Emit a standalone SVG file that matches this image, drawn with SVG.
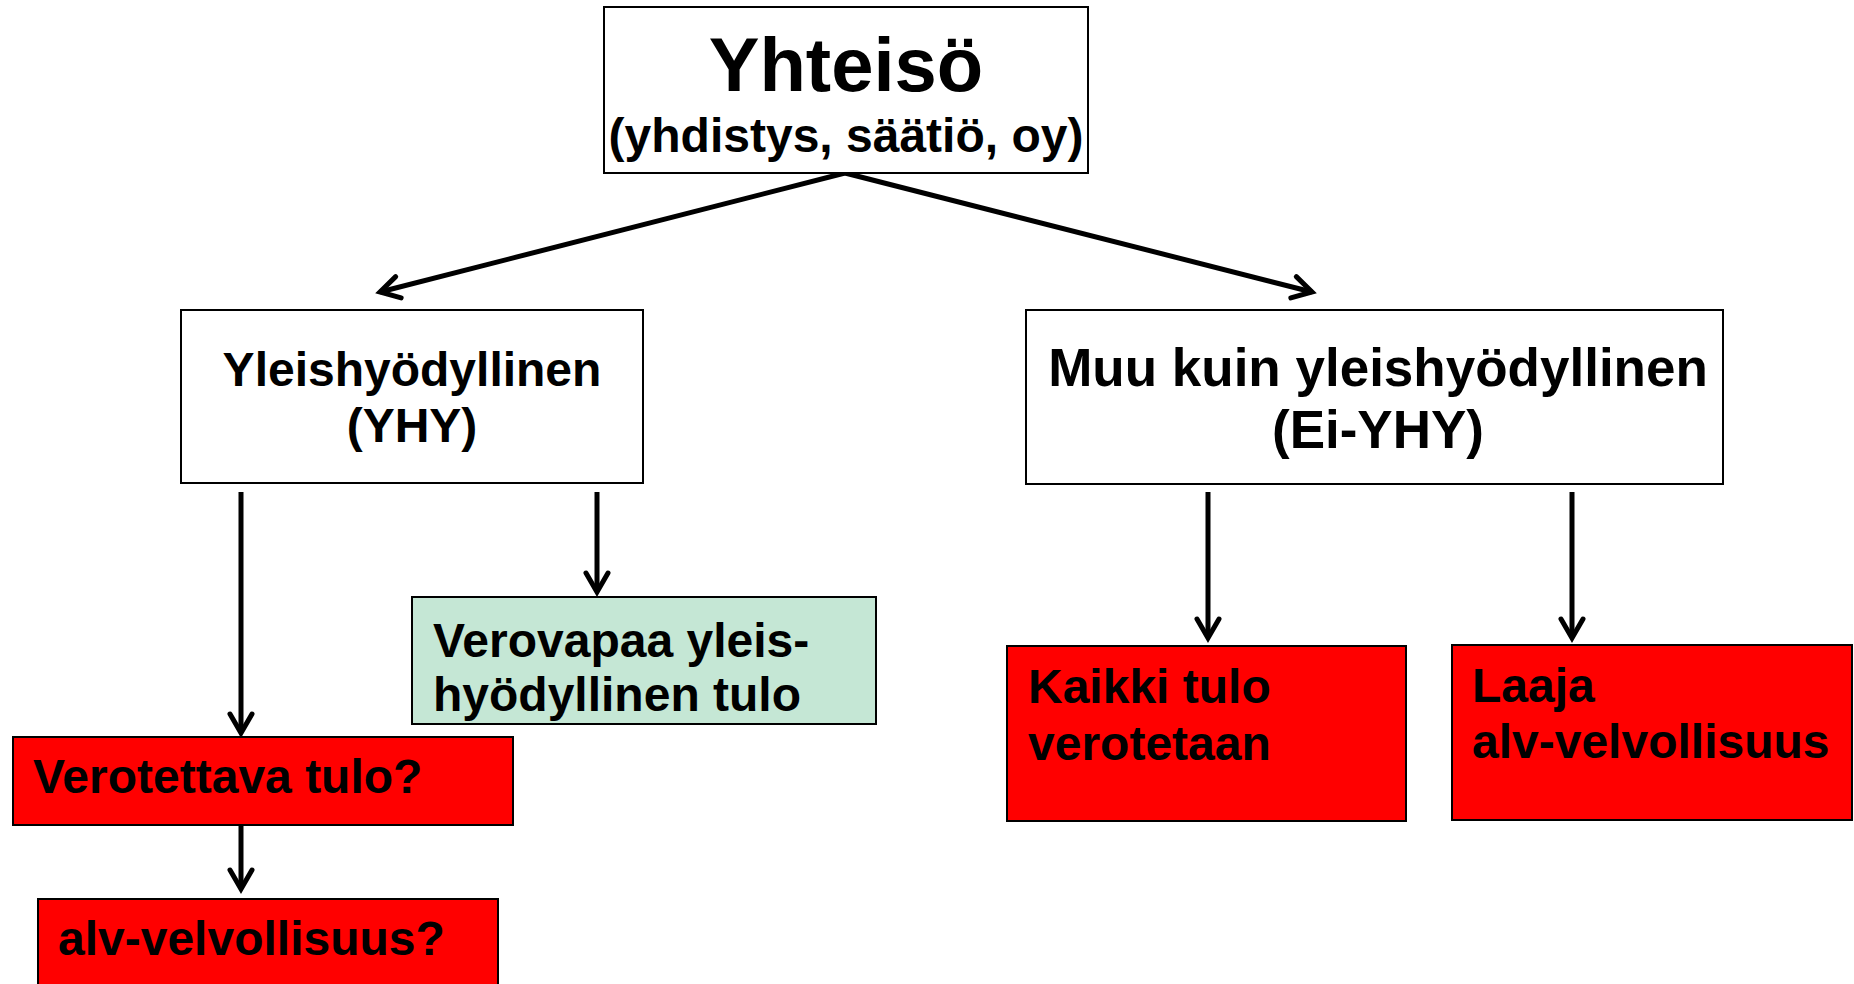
<svg xmlns="http://www.w3.org/2000/svg" width="1854" height="984" viewBox="0 0 1854 984">
<style>
  .box { stroke: #000; stroke-width: 2; }
  .white { fill: #ffffff; }
  .red { fill: #ff0000; }
  .green { fill: #c5e7d5; }
  text { font-family: "Liberation Sans", Arial, sans-serif; font-weight: bold; fill: #000; }
  .c { text-anchor: middle; }
  .f48 { font-size: 48px; }
  .conn { stroke: #000; stroke-width: 5; fill: none; marker-end: url(#arrow); }
</style>
<defs>
  <marker id="arrow" markerUnits="userSpaceOnUse" markerWidth="40" markerHeight="40" viewBox="-30 -20 40 40" refX="0" refY="0" orient="auto" overflow="visible">
    <path d="M -19 -11 L 0 0 L -19 11" fill="none" stroke="#000" stroke-width="5" stroke-linecap="round" stroke-linejoin="miter"/>
  </marker>
</defs>
<rect width="1854" height="984" fill="#ffffff"/>

<g id="connectors">
  <line class="conn" x1="845" y1="173" x2="380" y2="292"/>
  <line class="conn" x1="845" y1="173" x2="1312" y2="292"/>
  <line class="conn" x1="241" y1="492" x2="241" y2="733"/>
  <line class="conn" x1="597" y1="492" x2="597" y2="592"/>
  <line class="conn" x1="241" y1="825" x2="241" y2="889"/>
  <line class="conn" x1="1208" y1="492" x2="1208" y2="638"/>
  <line class="conn" x1="1572" y1="492" x2="1572" y2="638"/>
</g>

<g id="node-yhteiso">
  <rect class="box white" x="604" y="7" width="484" height="166"/>
  <text class="c" x="846" y="91" font-size="76">Yhteisö</text>
  <text class="c f48" x="846" y="152">(yhdistys, säätiö, oy)</text>
</g>

<g id="node-yhy">
  <rect class="box white" x="181" y="310" width="462" height="173"/>
  <text class="c f48" x="412" y="386">Yleishyödyllinen</text>
  <text class="c f48" x="412" y="442">(YHY)</text>
</g>

<g id="node-eiyhy">
  <rect class="box white" x="1026" y="310" width="697" height="174"/>
  <text class="c" x="1378" y="386" font-size="53">Muu kuin yleishyödyllinen</text>
  <text class="c" x="1378" y="448" font-size="53">(Ei-YHY)</text>
</g>

<g id="node-verovapaa">
  <rect class="box green" x="412" y="597" width="464" height="127"/>
  <text class="f48" x="433" y="657">Verovapaa yleis-</text>
  <text class="f48" x="433" y="711">hyödyllinen tulo</text>
</g>

<g id="node-verotettava">
  <rect class="box red" x="13" y="737" width="500" height="88"/>
  <text class="f48" x="33" y="793">Verotettava tulo?</text>
</g>

<g id="node-alv">
  <rect class="box red" x="38" y="899" width="460" height="100"/>
  <text class="f48" x="58" y="955">alv-velvollisuus?</text>
</g>

<g id="node-kaikki">
  <rect class="box red" x="1007" y="646" width="399" height="175"/>
  <text class="f48" x="1028" y="703">Kaikki tulo</text>
  <text class="f48" x="1028" y="760">verotetaan</text>
</g>

<g id="node-laaja">
  <rect class="box red" x="1452" y="645" width="400" height="175"/>
  <text class="f48" x="1472" y="702">Laaja</text>
  <text class="f48" x="1472" y="758">alv-velvollisuus</text>
</g>
</svg>
